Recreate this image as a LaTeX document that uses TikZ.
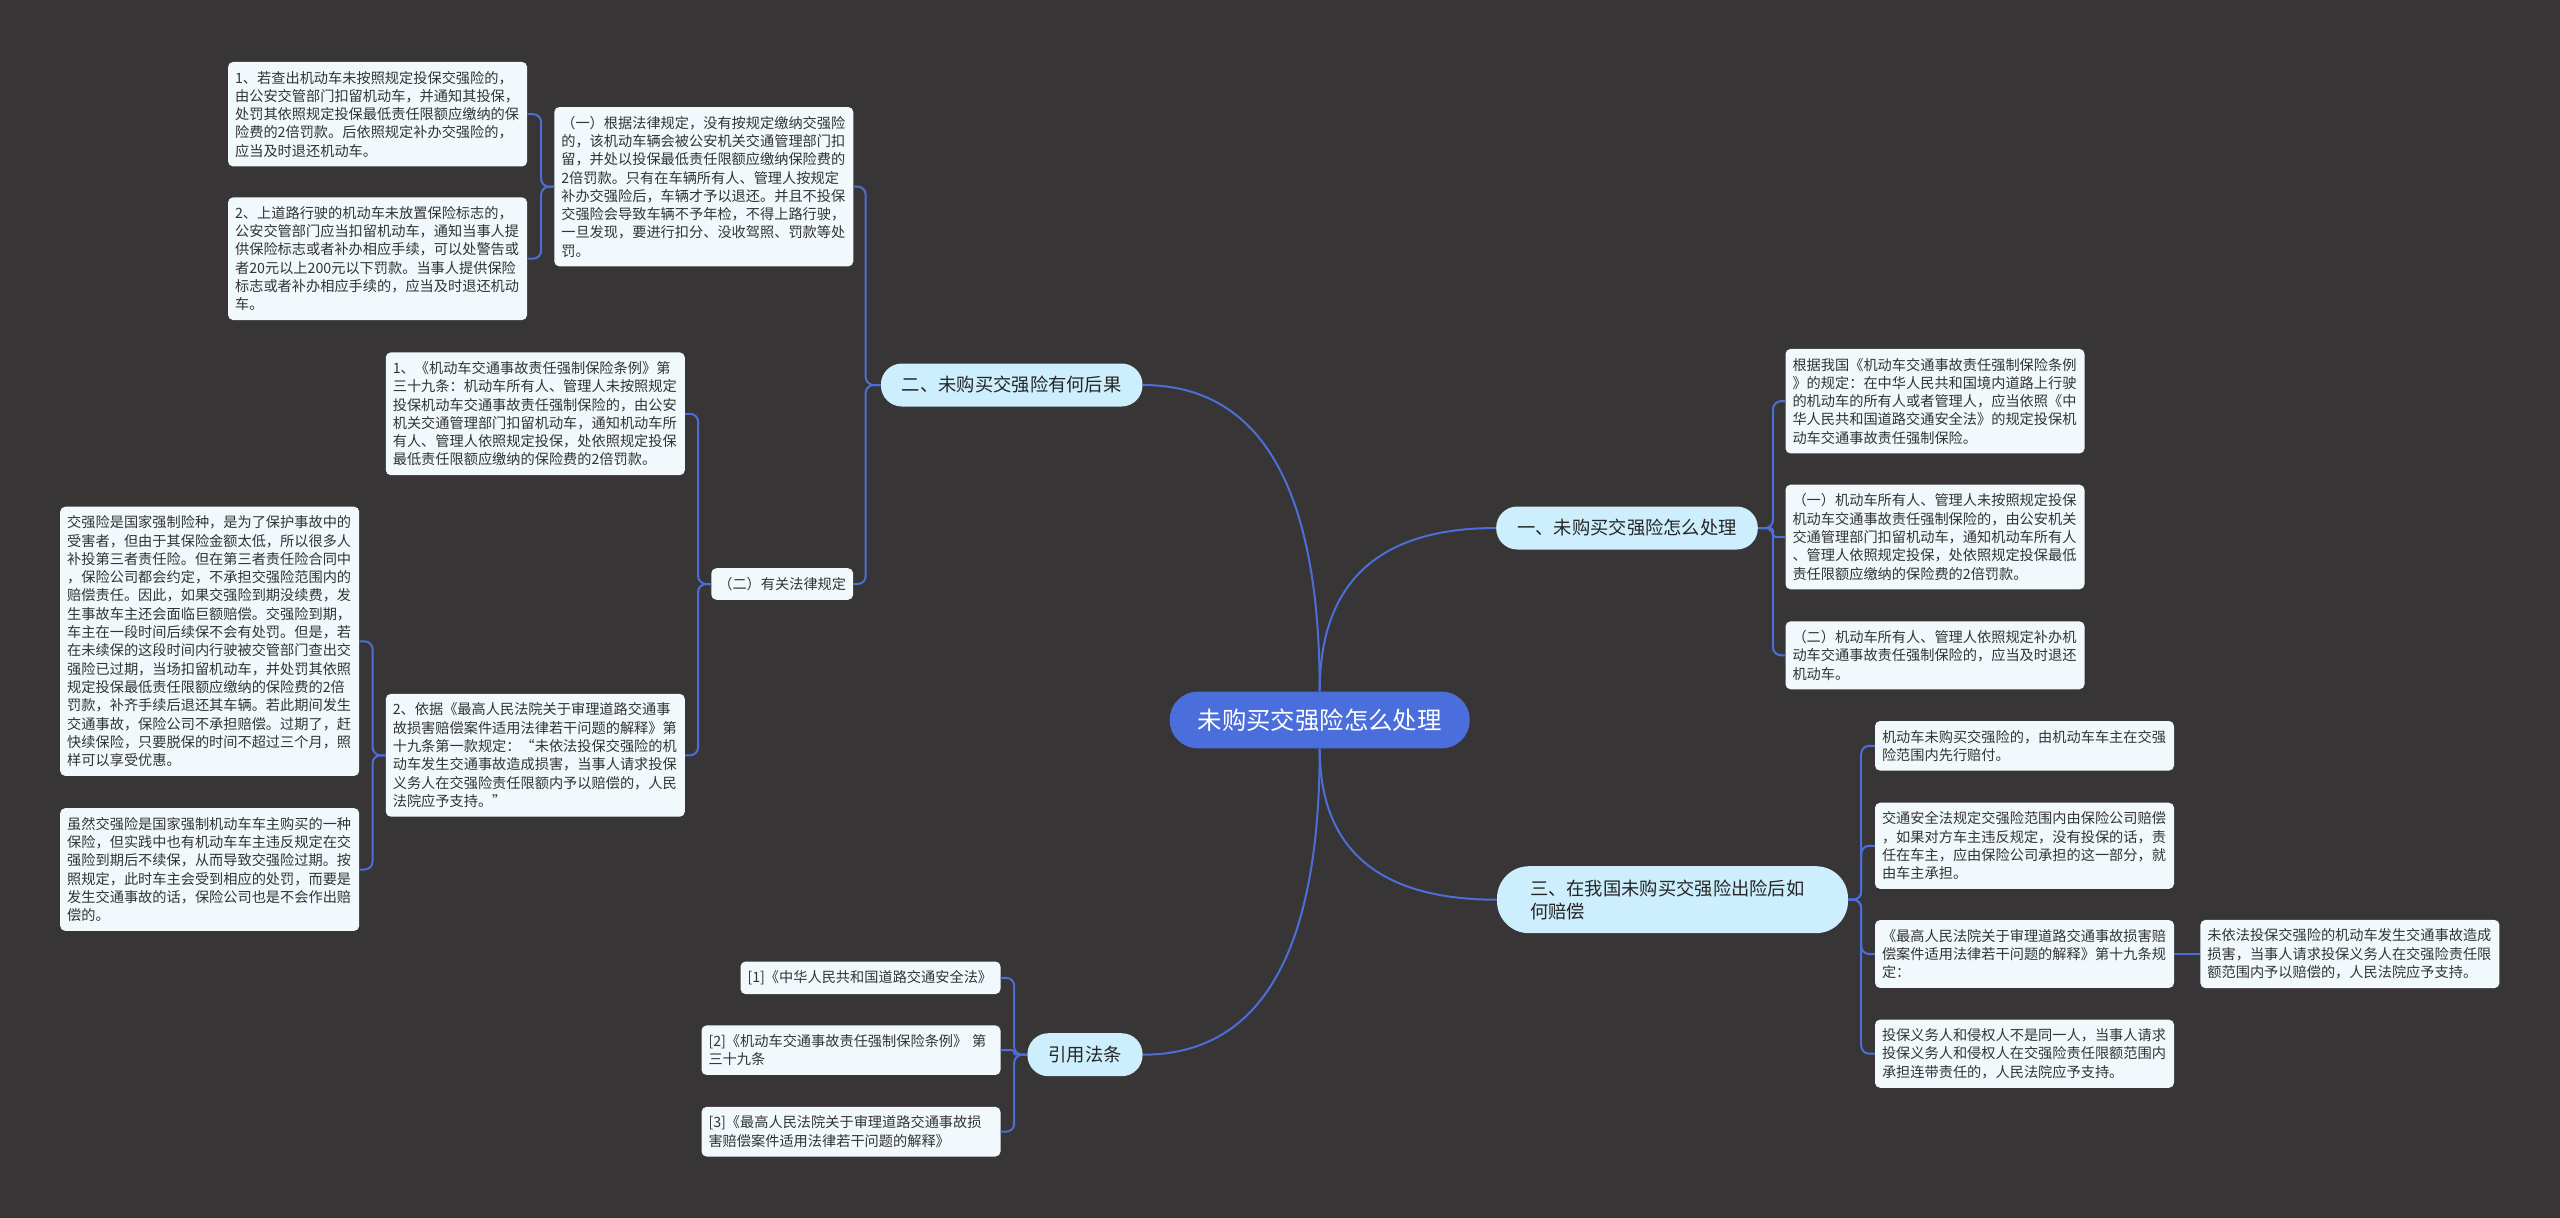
\documentclass[tikz,border=0pt]{standalone}
\usepackage{fontspec}
\setmainfont{Noto Sans CJK SC}
\usepackage{xcolor}
\usepackage{tikz}
\usetikzlibrary{positioning}

\definecolor{bgcol}{HTML}{373535}
\definecolor{linecol}{HTML}{4C6ED6}
\definecolor{rootcol}{HTML}{4A6EDB}
\definecolor{topiccol}{HTML}{CDEEFC}
\definecolor{notecol}{HTML}{F1F9FD}
\definecolor{inkcol}{HTML}{333333}

\begin{document}
\begin{tikzpicture}[x=1pt, y=-1pt,
  root/.style={fill=rootcol, text=white, rounded corners=28pt, minimum height=56.7pt, inner xsep=28pt, font=\fontsize{24.4}{28}\selectfont},
  topic/.style={fill=topiccol, text=black!85, rounded corners=21pt, minimum height=43pt, inner xsep=21pt, inner ysep=4pt, font=\fontsize{18.3}{23.3}\selectfont},
  short/.style={fill=notecol, text=inkcol, rounded corners=5pt, inner xsep=7pt, inner ysep=9pt, font=\fontsize{14.2}{18.3}\selectfont},
  note/.style={short, text width=285pt, align=left},
  link/.style={draw=linecol, line width=2pt},
  brace/.style={link, rounded corners=8pt}]
\fill[bgcol] (0,0) rectangle (2560,1218);
\node[root] (root) at (1319.7,720) {未购买交强险怎么处理};
\node[topic] (er) at (1011.7,385) {二、未购买交强险有何后果};
\node[topic] (yi) at (1627,528) {一、未购买交强险怎么处理};
\node[topic, text width=285pt, align=left, inner xsep=33pt, minimum height=67pt, rounded corners=32pt] (san) at (1672.5,899.7) {三、在我国未购买交强险出险后如\\何赔偿};
\node[topic] (yin) at (1085,1054.7) {引用法条};
\node[note, anchor=east] (s1) at (853.5,186.7) {（一）根据法律规定，没有按规定缴纳交强险\\的，该机动车辆会被公安机关交通管理部门扣\\留，并处以投保最低责任限额应缴纳保险费的\\2倍罚款。只有在车辆所有人、管理人按规定\\补办交强险后，车辆才予以退还。并且不投保\\交强险会导致车辆不予年检，不得上路行驶，\\一旦发现，要进行扣分、没收驾照、罚款等处\\罚。};
\node[note, anchor=east] (s1a) at (527.3,114.2) {1、若查出机动车未按照规定投保交强险的，\\由公安交管部门扣留机动车，并通知其投保，\\处罚其依照规定投保最低责任限额应缴纳的保\\险费的2倍罚款。后依照规定补办交强险的，\\应当及时退还机动车。};
\node[note, anchor=east] (s1b) at (527.3,258.7) {2、上道路行驶的机动车未放置保险标志的，\\公安交管部门应当扣留机动车，通知当事人提\\供保险标志或者补办相应手续，可以处警告或\\者20元以上200元以下罚款。当事人提供保险\\标志或者补办相应手续的，应当及时退还机动\\车。};
\node[short, anchor=east] (s2) at (853.3,584) {（二）有关法律规定};
\node[note, anchor=east] (s2a) at (685,413.8) {1、《机动车交通事故责任强制保险条例》第\\三十九条：机动车所有人、管理人未按照规定\\投保机动车交通事故责任强制保险的，由公安\\机关交通管理部门扣留机动车，通知机动车所\\有人、管理人依照规定投保，处依照规定投保\\最低责任限额应缴纳的保险费的2倍罚款。};
\node[note, anchor=east] (s2b) at (685,755.3) {2、依据《最高人民法院关于审理道路交通事\\故损害赔偿案件适用法律若干问题的解释》第\\十九条第一款规定：“未依法投保交强险的机\\动车发生交通事故造成损害，当事人请求投保\\义务人在交强险责任限额内予以赔偿的，人民\\法院应予支持。”};
\node[note, anchor=east] (s2b1) at (359.4,641.3) {交强险是国家强制险种，是为了保护事故中的\\受害者，但由于其保险金额太低，所以很多人\\补投第三者责任险。但在第三者责任险合同中\\，保险公司都会约定，不承担交强险范围内的\\赔偿责任。因此，如果交强险到期没续费，发\\生事故车主还会面临巨额赔偿。交强险到期，\\车主在一段时间后续保不会有处罚。但是，若\\在未续保的这段时间内行驶被交管部门查出交\\强险已过期，当场扣留机动车，并处罚其依照\\规定投保最低责任限额应缴纳的保险费的2倍\\罚款，补齐手续后退还其车辆。若此期间发生\\交通事故，保险公司不承担赔偿。过期了，赶\\快续保险，只要脱保的时间不超过三个月，照\\样可以享受优惠。};
\node[note, anchor=east] (s2b2) at (359.4,869.5) {虽然交强险是国家强制机动车车主购买的一种\\保险，但实践中也有机动车车主违反规定在交\\强险到期后不续保，从而导致交强险过期。按\\照规定，此时车主会受到相应的处罚，而要是\\发生交通事故的话，保险公司也是不会作出赔\\偿的。};
\node[note, anchor=west] (ya) at (1785.3,401.2) {根据我国《机动车交通事故责任强制保险条例\\》的规定：在中华人民共和国境内道路上行驶\\的机动车的所有人或者管理人，应当依照《中\\华人民共和国道路交通安全法》的规定投保机\\动车交通事故责任强制保险。};
\node[note, anchor=west] (yb) at (1785.3,537) {（一）机动车所有人、管理人未按照规定投保\\机动车交通事故责任强制保险的，由公安机关\\交通管理部门扣留机动车，通知机动车所有人\\、管理人依照规定投保，处依照规定投保最低\\责任限额应缴纳的保险费的2倍罚款。};
\node[note, anchor=west] (yc) at (1785.3,655.3) {（二）机动车所有人、管理人依照规定补办机\\动车交通事故责任强制保险的，应当及时退还\\机动车。};
\node[note, anchor=west] (sa) at (1874.8,745.8) {机动车未购买交强险的，由机动车车主在交强\\险范围内先行赔付。};
\node[note, anchor=west] (sb) at (1874.8,845.8) {交通安全法规定交强险范围内由保险公司赔偿\\，如果对方车主违反规定，没有投保的话，责\\任在车主，应由保险公司承担的这一部分，就\\由车主承担。};
\node[note, anchor=west] (sc) at (1874.8,954) {《最高人民法院关于审理道路交通事故损害赔\\偿案件适用法律若干问题的解释》第十九条规\\定：};
\node[note, right=26pt of sc] (sc1) {未依法投保交强险的机动车发生交通事故造成\\损害，当事人请求投保义务人在交强险责任限\\额范围内予以赔偿的，人民法院应予支持。};
\node[note, anchor=west] (sd) at (1874.8,1053.7) {投保义务人和侵权人不是同一人，当事人请求\\投保义务人和侵权人在交强险责任限额范围内\\承担连带责任的，人民法院应予支持。};
\node[note, text width=246pt, anchor=east] (r1) at (1000.7,977.8) {[1]《中华人民共和国道路交通安全法》};
\node[note, anchor=east] (r2) at (1000.7,1050.2) {[2]《机动车交通事故责任强制保险条例》~第\\三十九条};
\node[note, anchor=east] (r3) at (1000.7,1131.7) {[3]《最高人民法院关于审理道路交通事故损\\害赔偿案件适用法律若干问题的解释》};
\draw[link] (root.north) .. controls +(0,-204) and +(118,0) .. (er.east);
\draw[link] (root.north) .. controls +(0,-109) and +(-118,0) .. (yi.west);
\draw[link] (root.south) .. controls +(0,101) and +(-118,0) .. (san.west);
\draw[link] (root.south) .. controls +(0,204) and +(118,0) .. (yin.east);
\draw[brace] (er.west) -- ++(-15,0) |- (s1.east);
\draw[brace] (er.west) -- ++(-15,0) |- (s2.east);
\draw[brace] (s1.west) -- ++(-13,0) |- (s1a.east);
\draw[brace] (s1.west) -- ++(-13,0) |- (s1b.east);
\draw[brace] (s2.west) -- ++(-13,0) |- (s2a.east);
\draw[brace] (s2.west) -- ++(-13,0) |- (s2b.east);
\draw[brace] (s2b.west) -- ++(-13,0) |- (s2b1.east);
\draw[brace] (s2b.west) -- ++(-13,0) |- (s2b2.east);
\draw[brace] (yi.east) -- ++(15,0) |- (ya.west);
\draw[brace, rounded corners=3pt] (yi.east) -- ++(15,0) |- (yb.west);
\draw[brace] (yi.east) -- ++(15,0) |- (yc.west);
\draw[brace] (san.east) -- ++(13,0) |- (sa.west);
\draw[brace] (san.east) -- ++(13,0) |- (sb.west);
\draw[brace] (san.east) -- ++(13,0) |- (sc.west);
\draw[brace] (san.east) -- ++(13,0) |- (sd.west);
\draw[link] (sc) -- (sc1);
\draw[brace] (yin.west) -- ++(-13,0) |- (r1.east);
\draw[brace, rounded corners=2pt] (yin.west) -- ++(-13,0) |- (r2.east);
\draw[brace] (yin.west) -- ++(-13,0) |- (r3.east);
\end{tikzpicture}
\end{document}
